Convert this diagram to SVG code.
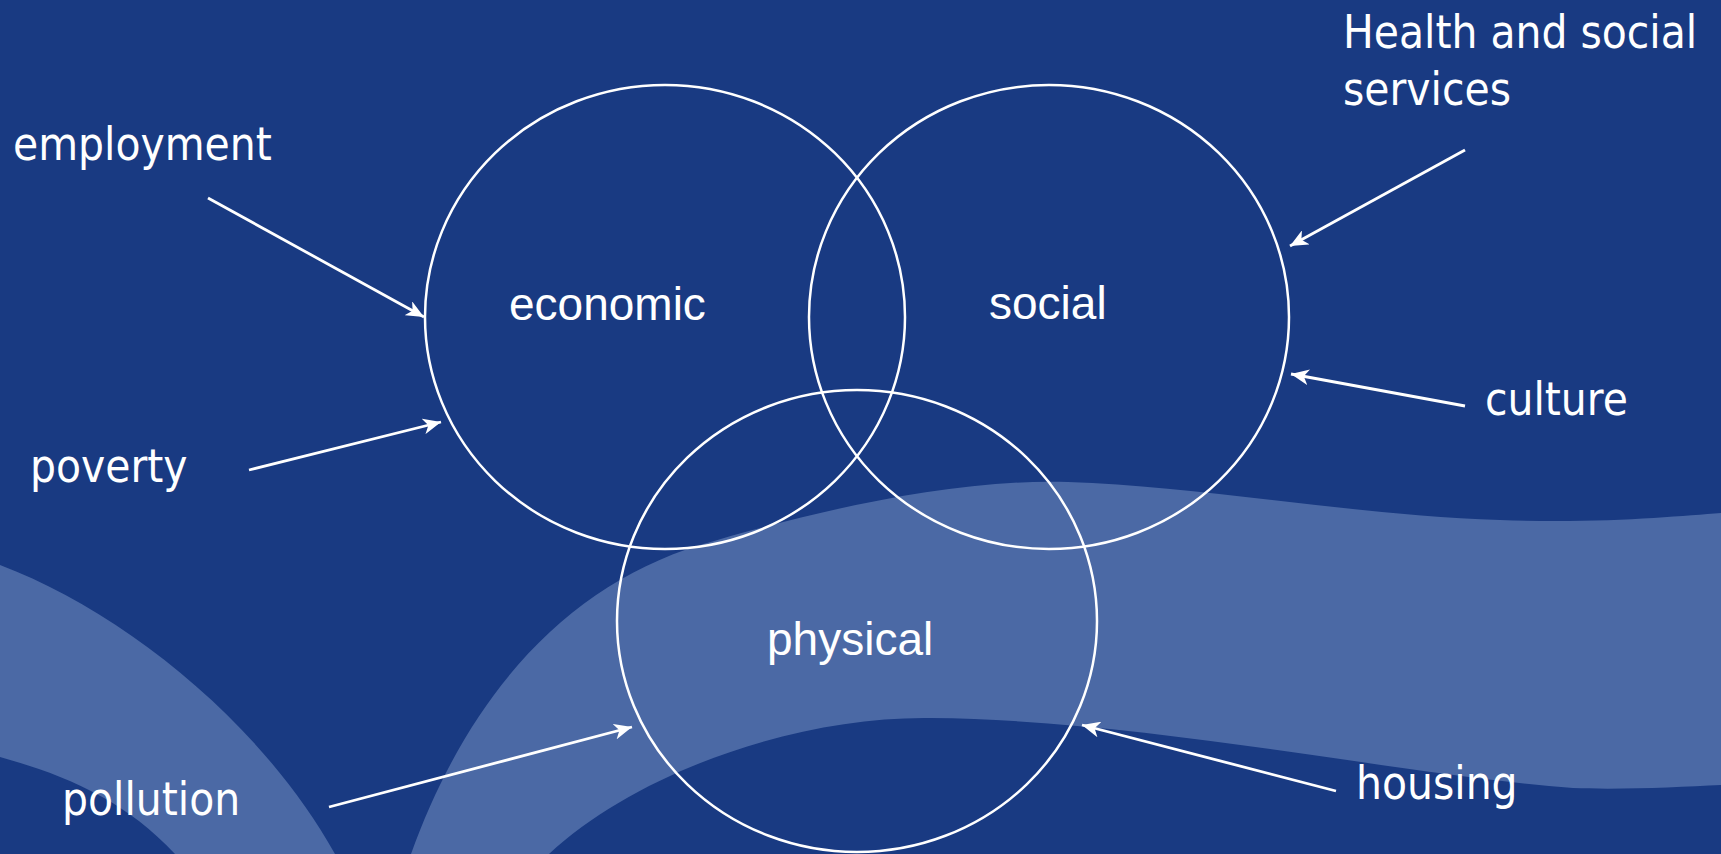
<svg xmlns="http://www.w3.org/2000/svg" width="1721" height="854" viewBox="0 0 1721 854">
<style>
.bg{fill:#193a82}
.band{fill:#4b69a5}
.ring{fill:none;stroke:#ffffff;stroke-width:2.5}
.arr{fill:none;stroke:#ffffff;stroke-width:2.8;marker-end:url(#ah)}
.outer{font-family:"DejaVu Sans Condensed","DejaVu Sans",sans-serif;font-size:45.5px;fill:#ffffff}
.inner{font-family:"Liberation Sans",Arial,sans-serif;font-size:46px;fill:#ffffff}
</style>
<defs>
<marker id="ah" markerUnits="userSpaceOnUse" markerWidth="20" markerHeight="16" refX="18" refY="8" orient="auto">
<path d="M0,0 L18,8 L0,16 L5,8 Z" fill="#ffffff"/>
</marker>
</defs>
<g id="background">
<rect class="bg" x="0" y="0" width="1721" height="854"/>
<path class="band" d="M0,565 C120,610 260,720 335,854 L175,854 C125,800 65,775 0,757 Z"/>
<path class="band" d="M411,854 C470,690 570,585 700,545 C800,515 950,478 1068,482 C1200,486 1350,515 1500,520 C1600,524 1680,516 1721,513 L1721,785 C1680,787 1620,790 1573,788 C1400,775 1150,720 931,718 C800,716 640,770 549,854 Z"/>
</g>
<g id="node-economic">
<ellipse class="ring" cx="665" cy="317" rx="240" ry="232"/>
<text class="inner" x="509" y="320">economic</text>
</g>
<g id="node-social">
<ellipse class="ring" cx="1049" cy="317" rx="240" ry="232"/>
<text class="inner" x="989" y="319">social</text>
</g>
<g id="node-physical">
<ellipse class="ring" cx="857" cy="621" rx="240" ry="231"/>
<text class="inner" x="767" y="655">physical</text>
</g>
<g id="label-employment"><text class="outer" x="13" y="160">employment</text></g>
<g id="label-poverty"><text class="outer" x="30" y="482">poverty</text></g>
<g id="label-health"><text class="outer" x="1343" y="48">Health and social</text><text class="outer" x="1343" y="105">services</text></g>
<g id="label-culture"><text class="outer" x="1485" y="415">culture</text></g>
<g id="label-pollution"><text class="outer" x="62" y="815">pollution</text></g>
<g id="label-housing"><text class="outer" x="1356" y="799">housing</text></g>
<g id="connectors">
<line class="arr" x1="208" y1="198" x2="424" y2="317"/>
<line class="arr" x1="249" y1="470" x2="441" y2="422"/>
<line class="arr" x1="1465" y1="150" x2="1290" y2="246"/>
<line class="arr" x1="1465" y1="406" x2="1291" y2="374"/>
<line class="arr" x1="329" y1="807" x2="632" y2="727"/>
<line class="arr" x1="1336" y1="791" x2="1082" y2="725"/>
</g>
</svg>
